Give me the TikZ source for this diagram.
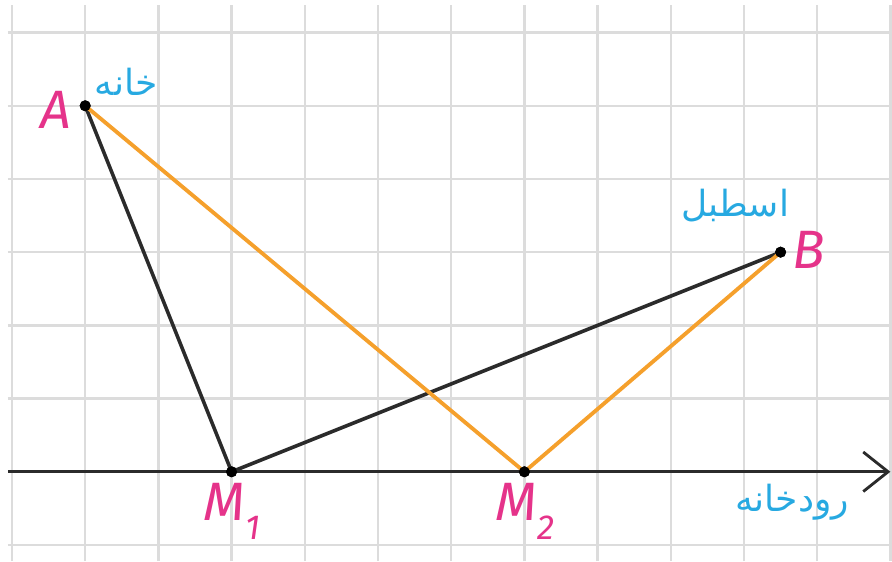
\documentclass[tikz,border=0pt]{standalone}
\usepackage{fontspec}
\usetikzlibrary{arrows.meta,positioning}
\TeXXeTstate=1
\newfontfamily\labfont{Fira Sans}
\newfontfamily\arabicfont[Script=Arabic]{DejaVu Sans}
\definecolor{Grid}{HTML}{DCDCDC}
\definecolor{Ink}{HTML}{2B2B2B}
\definecolor{Path}{HTML}{F5A02C}
\definecolor{Pink}{HTML}{E5338A}
\definecolor{Sky}{HTML}{27A9E1}
\tikzset{
 gridline/.style={draw=Grid,line width=0.9pt},
 axis/.style={draw=Ink,line width=1.1pt,-{Straight Barb[length=3.4mm,width=5.4mm,line width=1.1pt]}},
 pt/.style={circle,fill=black,inner sep=0pt,minimum size=1.5mm},
 seg/.style={draw=Ink,line width=1.4pt},
 oseg/.style={draw=Path,line width=1.5pt},
 ptlabel/.style={text=Pink,font=\labfont\itshape\fontsize{21}{21}\selectfont,inner sep=0pt},
 place/.style={text=Sky,font=\arabicfont\fontsize{14}{14}\selectfont,inner sep=0pt}
}
\newcommand{\sub}[1]{\raisebox{-7.5pt}{\fontsize{13.5}{13.5}\selectfont #1}}
\begin{document}
\begin{tikzpicture}[x=1cm,y=1cm]
\useasboundingbox (-0.164,-0.219) rectangle (12.022,7.445);
% grid
\foreach \x in {0,...,12} \draw[gridline] (\x,-0.219) -- (\x,7.377);
\foreach \y in {0,...,7} \draw[gridline] (-0.055,\y) -- (12.022,\y);
% river axis
\coordinate (start) at (-0.055,1);
\coordinate (end) at (12.0,1);
\draw[axis] (start) -- (end);
% points
\node[pt] (A) at (1,6) {};
\node[pt] (B) at (10.5,4) {};
\node[pt] (M1) at (3,1) {};
\node[pt] (M2) at (7,1) {};
\draw[seg] (A.center) -- (M1.center) -- (B.center);
\draw[oseg] (A.center) -- (M2.center) -- (B.center);
\node[pt] at (A) {};\node[pt] at (B) {};\node[pt] at (M1) {};\node[pt] at (M2) {};
% labels
\node[ptlabel] (la) at (0.6,5.94) {A};
\node[ptlabel] (lb) at (10.88,4.03) {B};
\node[ptlabel,anchor=base west] (lm1) at (2.61,0.34) {M\sub{1}};
\node[ptlabel,anchor=base west] (lm2) at (6.6,0.34) {M\sub{2}};
\node[place] (house) at (1.56,6.33) {\beginR خانه\endR};
\node[place] (stable) at (9.88,4.64) {\beginR اسطبل\endR};
\node[place] (river) at (10.66,0.59) {\beginR رودخانه\endR};
\end{tikzpicture}
\end{document}
